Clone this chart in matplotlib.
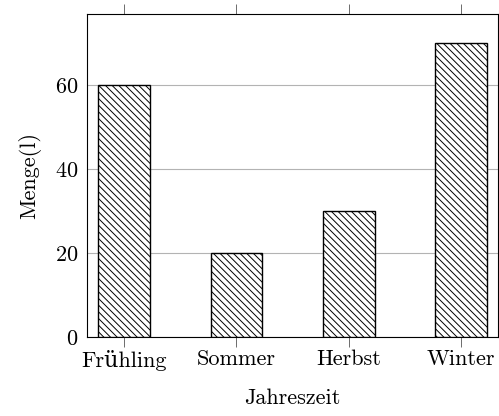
import numpy as np
import matplotlib
matplotlib.use('Agg')
import matplotlib.pyplot as plt

seasons = ['Frühling', 'Sommer', 'Herbst', 'Winter']
amounts = [60, 20, 30, 70]
y_ticks = [0, 20, 40, 60]

plt.rcParams['font.family'] = ['cmr10', 'DejaVu Serif']
plt.rcParams['mathtext.fontset'] = 'cm'
plt.rcParams['axes.formatter.use_mathtext'] = True
plt.rcParams['hatch.linewidth'] = 0.7

fig = plt.figure(figsize=(4.99, 4.16), dpi=100)
ax = fig.add_axes([0.1743, 0.1892, 0.8243, 0.7771])

x = np.arange(len(seasons))
ax.bar(x, amounts, width=0.46, facecolor='white', edgecolor='black',
       linewidth=1.0, hatch='\\' * 5, zorder=3)

ax.set_xlim(-0.33, 3.33)
ax.set_ylim(0, 76.9)
ax.set_xticks(x)
ax.set_xticklabels(seasons)
ax.set_yticks(y_ticks)
ax.yaxis.grid(True, color='#b3b3b3', linewidth=0.8, zorder=0)

ax.tick_params(axis='x', direction='out', length=7, width=0.6, color='#555555',
               top=True, labelsize=16, pad=2)
ax.tick_params(axis='y', length=0, labelsize=16, pad=6)
for s in ax.spines.values():
    s.set_linewidth(0.8)

ax.set_xlabel('Jahreszeit', fontsize=16, labelpad=13)
ax.set_ylabel('Menge(l)', fontsize=16, labelpad=10)

fig.savefig('out.png', dpi=100)
